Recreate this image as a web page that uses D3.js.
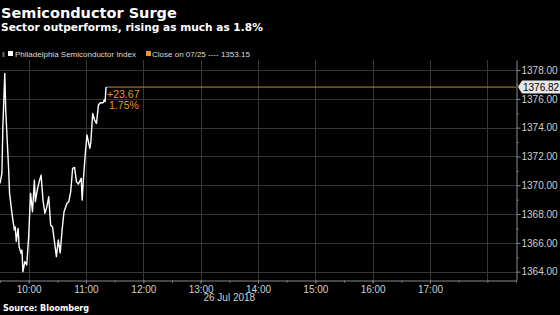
<!DOCTYPE html>
<html>
<head>
<meta charset="utf-8">
<script src="https://cdn.jsdelivr.net/npm/d3@7"></script>
<style>
  html, body { margin: 0; padding: 0; background: #000; }
  svg { display: block; }
</style>
</head>
<body>
<div id="chart"></div>
<script>
/* ---- data (26 Jul 2018, intraday) ---- */
const times = [
  '09:30', '09:32', '09:33', '09:35', '09:36', '09:39', '09:40', '09:43', '09:45', '09:46',
  '09:47', '09:49', '09:50', '09:52', '09:53', '09:54', '09:56', '09:58', '10:00', '10:02',
  '10:04', '10:06', '10:07', '10:09', '10:11', '10:13', '10:15', '10:17', '10:19', '10:21',
  '10:23', '10:25', '10:27', '10:29', '10:31', '10:33', '10:35', '10:37', '10:40', '10:42',
  '10:44', '10:46', '10:48', '10:50', '10:52', '10:55', '10:56', '10:57', '10:59', '11:01',
  '11:04', '11:05', '11:07', '11:09', '11:11', '11:13', '11:15', '11:18', '11:19', '11:20',
  '11:21'
];
const values = [
  1370.13, 1370.82, 1374.06, 1377.77, 1375.20, 1371.17, 1369.44, 1367.80, 1366.90, 1367.10,
  1366.10, 1367.00, 1365.73, 1365.27, 1365.50, 1364.00, 1364.70, 1364.46, 1366.43, 1369.44,
  1368.16, 1370.36, 1368.86, 1369.67, 1370.25, 1370.70, 1368.97, 1368.05, 1368.50, 1369.20,
  1367.24, 1367.10, 1366.08, 1365.04, 1366.20, 1365.30, 1366.90, 1368.16, 1368.74, 1368.86,
  1369.55, 1371.17, 1371.24, 1370.25, 1370.08, 1370.48, 1368.97, 1370.13, 1371.98, 1373.49,
  1372.56, 1372.95, 1374.99, 1374.53, 1374.30, 1375.57, 1375.73, 1375.73, 1375.92, 1375.80,
  1376.82
];
const prevClose = 1353.15;
const yTicks = [1364, 1366, 1368, 1370, 1372, 1374, 1376, 1378];
const xTickHours = ['10:00', '11:00', '12:00', '13:00', '14:00', '15:00', '16:00', '17:00'];
const gridHours = ['10:00', '11:00', '12:00', '13:00', '14:00', '15:00', '16:00', '17:00', '18:00'];

const W = 560, H = 315;
const FONT = "'Liberation Sans', Arial, sans-serif";
const HEAD = "'DejaVu Sans', Verdana, sans-serif";
const C = {
  bg: '#000',
  grid: '#363636',
  axis: '#8a8a8a',
  tick: '#cfcfcf',
  line: '#ffffff',
  orange: '#e8962e',
  orangeLine: '#c98a33'
};

const day = '2018-07-26';
const parse = d3.timeParse('%Y-%m-%d %H:%M');
const t = s => parse(day + ' ' + s);
const data = times.map((s, i) => ({ t: t(s), v: values[i] }));

const plot = { left: 0, right: 516, top: 60, bottom: 280 };

const x = d3.scaleTime()
  .domain([t('09:30'), t('18:30')])
  .range([plot.left, plot.right]);
const y = d3.scaleLinear()
  .domain([1363.42, 1378.7])
  .range([plot.bottom, plot.top]);

const svg = d3.select('#chart').append('svg')
  .attr('width', W).attr('height', H)
  .style('background', C.bg);

/* ---- header ---- */
svg.append('text')
  .attr('x', 1).attr('y', 17.5)
  .attr('fill', '#fff')
  .style('font-family', HEAD).style('font-weight', 'bold').style('font-size', '14.5px')
  .text('Semiconductor Surge');
svg.append('text')
  .attr('x', 1).attr('y', 31)
  .attr('fill', '#fff')
  .style('font-family', HEAD).style('font-weight', 'bold').style('font-size', '10.6px')
  .text('Sector outperforms, rising as much as 1.8%');

// legend
const leg = svg.append('g').attr('transform', 'translate(0,56)');
leg.append('rect').attr('x', 2.5).attr('y', -4).attr('width', 2).attr('height', 5).attr('fill', '#666');
leg.append('rect').attr('x', 8).attr('y', -5).attr('width', 5).attr('height', 5).attr('fill', '#fff');
leg.append('text')
  .attr('x', 15).attr('y', 0.5)
  .attr('fill', '#dcdcdc')
  .style('font-family', FONT).style('font-size', '8px')
  .text('Philadelphia Semiconductor Index');
leg.append('rect').attr('x', 146).attr('y', -5).attr('width', 5).attr('height', 5).attr('fill', C.orange);
leg.append('text')
  .attr('x', 152).attr('y', 0.5)
  .attr('fill', '#dcdcdc')
  .style('font-family', FONT).style('font-size', '8px')
  .text('Close on 07/25 ---- ' + prevClose.toFixed(2));

/* ---- grid ---- */
const g = svg.append('g');
g.append('g').selectAll('line')
  .data(yTicks)
  .join('line')
  .attr('x1', plot.left).attr('x2', plot.right)
  .attr('y1', d => Math.round(y(d)) + 0.5).attr('y2', d => Math.round(y(d)) + 0.5)
  .attr('stroke', C.grid).attr('stroke-width', 1);
g.append('g').selectAll('line')
  .data(gridHours)
  .join('line')
  .attr('x1', d => Math.round(x(t(d))) + 0.5).attr('x2', d => Math.round(x(t(d))) + 0.5)
  .attr('y1', plot.top).attr('y2', plot.bottom)
  .attr('stroke', C.grid).attr('stroke-width', 1);

/* ---- axes ---- */
const yAxis = g.append('g')
  .attr('transform', `translate(${plot.right + 0.5},0)`)
  .call(d3.axisRight(y).tickValues(yTicks).tickSize(4).tickSizeOuter(0)
    .tickFormat(d3.format('.2f')));
const yMinor = g.append('g')
  .attr('transform', `translate(${plot.right + 0.5},0)`)
  .call(d3.axisRight(y).tickValues(d3.range(1364, 1379, 1).filter(v => v % 2)).tickSize(2)
    .tickSizeOuter(0).tickFormat(''));
yMinor.select('.domain').remove();
[yAxis, yMinor].forEach(a => {
  a.select('.domain').attr('stroke', C.axis);
  a.selectAll('line').attr('stroke', C.axis);
  a.selectAll('text')
    .attr('fill', C.tick).attr('x', 5)
    .style('font-family', FONT).style('font-size', '10px');
});

const xAxis = g.append('g')
  .attr('transform', `translate(0,${plot.bottom + 0.5})`)
  .call(d3.axisBottom(x).tickValues(xTickHours.map(t)).tickSize(3).tickSizeOuter(0)
    .tickFormat(d3.timeFormat('%H:%M')));
const xMinor = g.append('g')
  .attr('transform', `translate(0,${plot.bottom + 0.5})`)
  .call(d3.axisBottom(x).ticks(d3.timeMinute.every(30)).tickSize(2).tickSizeOuter(0).tickFormat(''));
xMinor.select('.domain').remove();
[xAxis, xMinor].forEach(a => {
  a.select('.domain').attr('stroke', C.axis);
  a.selectAll('line').attr('stroke', C.axis);
  a.selectAll('text')
    .attr('fill', C.tick).attr('y', 5)
    .style('font-family', FONT).style('font-size', '10px');
});
svg.append('text')
  .attr('x', x(t('13:30'))).attr('y', 301)
  .attr('text-anchor', 'middle')
  .attr('fill', C.tick)
  .style('font-family', FONT).style('font-size', '10px')
  .text('26 Jul 2018');

/* ---- last-value line and annotation ---- */
const last = data[data.length - 1];
g.append('line')
  .attr('x1', x(last.t)).attr('x2', plot.right)
  .attr('y1', y(last.v)).attr('y2', y(last.v))
  .attr('stroke', C.orangeLine).attr('stroke-width', 1);

/* ---- series ---- */
g.append('path')
  .datum(data)
  .attr('fill', 'none')
  .attr('stroke', C.line)
  .attr('stroke-width', 1.4)
  .attr('stroke-linejoin', 'round')
  .attr('d', d3.line().x(d => x(d.t)).y(d => y(d.v)));

const chg = last.v - prevClose;
g.append('text')
  .attr('x', x(last.t) + 1).attr('y', y(last.v) + 10.5)
  .attr('fill', C.orange)
  .style('font-family', FONT).style('font-size', '10.5px')
  .text('+' + chg.toFixed(2));
g.append('text')
  .attr('x', x(last.t) + 3).attr('y', y(last.v) + 22)
  .attr('fill', C.orange)
  .style('font-family', FONT).style('font-size', '10.5px')
  .text((chg / prevClose * 100).toFixed(2) + '%');

// value tag on the right axis
const ly = y(last.v);
const tag = svg.append('g').attr('transform', `translate(${plot.right + 2},${ly})`);
tag.append('path')
  .attr('d', 'M0,0 L4,-6.5 L42,-6.5 L42,6.5 L4,6.5 Z')
  .attr('fill', '#e6e6e6');
tag.append('text')
  .attr('x', 5).attr('y', 3.6)
  .attr('fill', '#000')
  .style('font-family', FONT).style('font-size', '10px')
  .text(last.v.toFixed(2));

/* ---- source ---- */
svg.append('text')
  .attr('x', 3).attr('y', 311)
  .attr('fill', '#fff')
  .style('font-family', HEAD).style('font-weight', 'bold').style('font-size', '8px')
  .text('Source: Bloomberg');
</script>
</body>
</html>
